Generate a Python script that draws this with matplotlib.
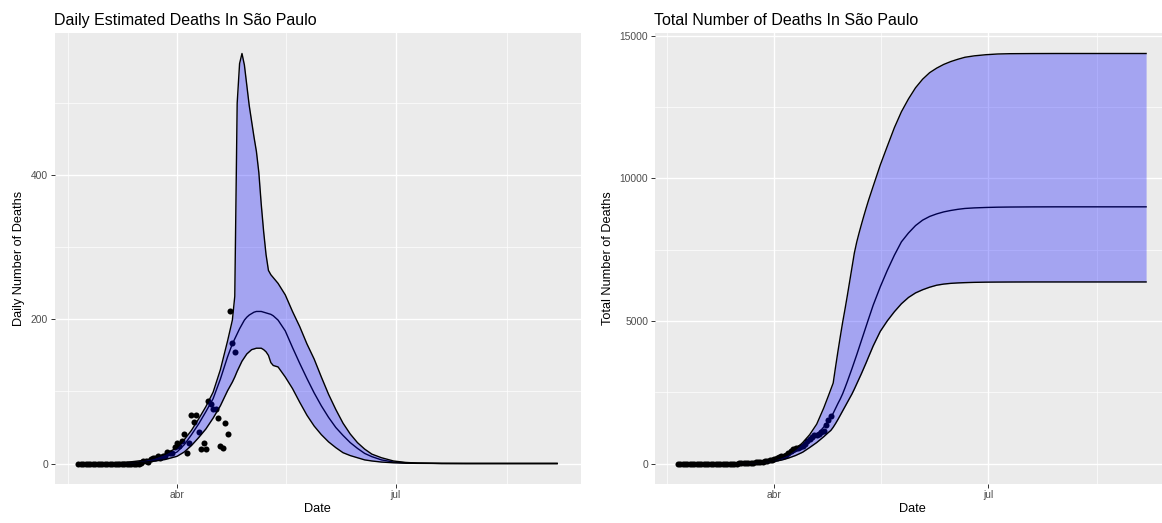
import numpy as np
import pandas as pd
import matplotlib
matplotlib.use("Agg")
import matplotlib.pyplot as plt
from matplotlib.ticker import FixedLocator
import matplotlib.dates as mdates

plt.rcParams['font.family'] = ['Liberation Sans', 'DejaVu Sans']

# model knots (dates) shared by all estimate curves
knot_dates = [
    '2020-02-20', '2020-03-02', '2020-03-12', '2020-03-17', '2020-03-22', '2020-03-27',
    '2020-04-01', '2020-04-04', '2020-04-07', '2020-04-10', '2020-04-13', '2020-04-16',
    '2020-04-19', '2020-04-22', '2020-04-24', '2020-04-25', '2020-04-26', '2020-04-27',
    '2020-04-28', '2020-04-29', '2020-04-30', '2020-05-01', '2020-05-02', '2020-05-03',
    '2020-05-04', '2020-05-05', '2020-05-06', '2020-05-07', '2020-05-08', '2020-05-09',
    '2020-05-10', '2020-05-11', '2020-05-13', '2020-05-16', '2020-05-19', '2020-05-22',
    '2020-05-25', '2020-05-28', '2020-05-31', '2020-06-03', '2020-06-06', '2020-06-09',
    '2020-06-12', '2020-06-15', '2020-06-18', '2020-06-21', '2020-06-25', '2020-06-30',
    '2020-07-05', '2020-07-10', '2020-07-20', '2020-07-30', '2020-09-06',
]

# daily deaths estimates
daily_median = [
    0, 0.2, 1, 2.5, 5, 9,
    16, 26, 40, 55, 72, 90,
    117, 148, 166, 173, 180, 187,
    193, 199, 203, 206, 208, 210,
    211, 211, 211, 210, 209, 208,
    207, 205, 199, 184, 161, 139,
    118, 98, 80, 64, 50, 39,
    29, 21, 14, 9.5, 5, 2,
    1, 0.5, 0.1, 0, 0,
]
daily_upper = [
    0, 0.3, 2, 4, 7, 13,
    22, 33, 46, 62, 79, 99,
    130, 170, 199, 232, 500, 555,
    569, 553, 525, 497, 475, 453,
    433, 404, 360, 322, 290, 268,
    262, 258, 250, 234, 211, 190,
    166, 145, 120, 96, 75, 56,
    41, 29, 20, 13, 8, 3.5,
    1.5, 0.6, 0.1, 0, 0,
]
daily_lower = [
    0, 0.1, 0.5, 1.5, 3, 5.5,
    10, 16, 25, 36, 48, 63,
    80, 101, 113, 120, 128, 135,
    142, 147, 152, 155, 158, 159,
    160, 160, 160, 158, 155, 150,
    140, 136, 134, 120, 104, 85,
    67, 52, 40, 30, 22, 15,
    11, 8, 5, 3.5, 2, 1,
    0.4, 0.2, 0, 0, 0,
]

# cumulative deaths estimates
total_median = [
    0, 1, 6, 14, 30, 60,
    115, 190, 290, 410, 570, 760,
    1000, 1280, 1500, 1610, 1760, 1930,
    2100, 2260, 2440, 2650, 2870, 3100,
    3330, 3570, 3810, 4060, 4310, 4560,
    4810, 5060, 5550, 6190, 6770, 7300,
    7770, 8080, 8340, 8530, 8660, 8750,
    8820, 8870, 8910, 8940, 8960, 8975,
    8985, 8990, 8995, 8997, 8997,
]
total_upper = [
    0, 2, 8, 18, 36, 70,
    130, 210, 320, 500, 730, 1010,
    1380, 1950, 2380, 2600, 2820, 3380,
    3920, 4440, 4940, 5400, 5880, 6380,
    6880, 7380, 7760, 8080, 8380, 8670,
    8950, 9220, 9720, 10460, 11120, 11770,
    12330, 12780, 13170, 13470, 13700, 13860,
    13990, 14090, 14170, 14240, 14290, 14330,
    14355, 14365, 14370, 14372, 14372,
]
total_lower = [
    0, 1, 4, 8, 18, 38,
    75, 118, 190, 280, 395, 560,
    735, 940, 1090, 1160, 1270, 1400,
    1540, 1690, 1840, 1990, 2140, 2290,
    2440, 2610, 2790, 2970, 3150, 3340,
    3530, 3730, 4120, 4630, 5000, 5320,
    5600, 5820, 5980, 6090, 6180, 6250,
    6290, 6315, 6330, 6340, 6350, 6357,
    6360, 6362, 6364, 6364, 6364,
]

# observed data, one value per day from 2020-02-20 to 2020-04-25
obs_dates = pd.date_range('2020-02-20', '2020-04-25', freq='D')
obs_daily = [0] * 26 + [
    1, 3, 3, 2, 6, 7, 8, 10, 8, 10, 10, 16, 14, 15, 23,
    28, 24, 31, 41, 15, 29, 67, 57, 68, 44, 20, 28, 20, 87, 83,
    75, 75, 63, 24, 22, 56, 41, 211, 167, 155,
]
obs_total = [0] * 26 + [
    1, 4, 7, 9, 15, 22, 30, 40, 48, 58, 68, 84, 98, 113, 136,
    164, 188, 219, 260, 275, 304, 371, 428, 496, 540, 560, 588, 608, 695, 778,
    853, 928, 991, 1015, 1037, 1093, 1134, 1345, 1512, 1667,
]

tick_dates = ['2020-04-01', '2020-07-01']
tick_labels = ['abr', 'jul']

knots = pd.to_datetime(knot_dates)
BG = '#EBEBEB'


def style_axes(ax, y_major, y_minor):
    ax.set_facecolor(BG)
    for s in ax.spines.values():
        s.set_visible(False)
    breaks = pd.to_datetime(['2020-01-01', '2020-04-01', '2020-07-01', '2020-10-01'])
    minor_x = breaks[:-1] + (breaks[1:] - breaks[:-1]) / 2
    ax.xaxis.set_major_locator(FixedLocator(mdates.date2num(pd.to_datetime(tick_dates))))
    ax.xaxis.set_minor_locator(FixedLocator(mdates.date2num(minor_x)))
    ax.set_xticklabels(tick_labels)
    ax.yaxis.set_major_locator(FixedLocator(y_major))
    ax.yaxis.set_minor_locator(FixedLocator(y_minor))
    ax.grid(which='major', color='white', linewidth=1.0)
    ax.grid(which='minor', color='white', linewidth=0.5)
    ax.set_axisbelow(True)
    ax.tick_params(which='major', length=2.6, width=0.7, color='#333333',
                   labelsize=7.4, labelcolor='#4D4D4D', pad=2)
    ax.tick_params(which='minor', length=0)
    ax.set_xlabel('Date', fontsize=9.2, labelpad=2)


def draw_panel(ax, obs, lo, mid, hi):
    ax.scatter(obs_dates, obs, s=19, color='black', zorder=2, linewidths=0)
    ax.plot(knots, mid, color='black', linewidth=1.0, zorder=3)
    ax.fill_between(knots, lo, hi, color='blue', alpha=0.3, linewidth=0, zorder=4)
    ax.plot(knots, hi, color='black', linewidth=1.0, zorder=5)
    ax.plot(knots, lo, color='black', linewidth=1.0, zorder=5)
    x0, x1 = mdates.date2num(knots[0]), mdates.date2num(knots[-1])
    ax.set_xlim(x0 - 0.05 * (x1 - x0), x1 + 0.05 * (x1 - x0))
    ytop = max(hi)
    ax.set_ylim(-0.05 * ytop, 1.05 * ytop)


fig = plt.figure(figsize=(11.62, 5.23), dpi=100)
ax1 = fig.add_axes([54.5 / 1162, 39 / 523, 526.5 / 1162, 451 / 523])
# the right panel runs past the right edge of the image, as in the original
ax2 = fig.add_axes([654.5 / 1162, 39 / 523, 515 / 1162, 451 / 523])

draw_panel(ax1, obs_daily, daily_lower, daily_median, daily_upper)
style_axes(ax1, [0, 200, 400], [100, 300, 500])
ax1.set_ylabel('Daily Number of Deaths', fontsize=9.2, labelpad=4)
ax1.set_title('Daily Estimated Deaths In São Paulo', loc='left', fontsize=11.5, pad=6)

draw_panel(ax2, obs_total, total_lower, total_median, total_upper)
style_axes(ax2, [0, 5000, 10000, 15000], [2500, 7500, 12500])
ax2.set_ylabel('Total Number of Deaths', fontsize=9.2, labelpad=4)
ax2.set_title('Total Number of Deaths In São Paulo', loc='left', fontsize=11.5, pad=6)

fig.savefig('out.png', dpi=100)
